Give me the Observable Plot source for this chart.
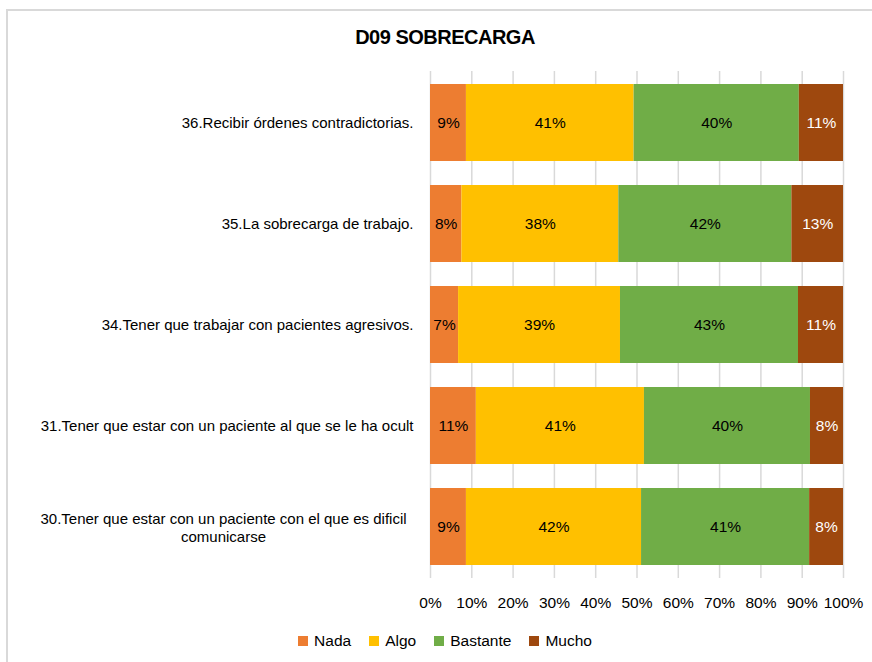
<!DOCTYPE html>
<html>
<head>
<meta charset="utf-8">
<script src="https://cdn.jsdelivr.net/npm/d3@7"></script>
<script src="https://cdn.jsdelivr.net/npm/@observablehq/plot@0.6"></script>
<style>
  body { margin: 0; background: #fff; }
  #wrap { position: relative; width: 872px; height: 662px; overflow: hidden; font-family: "Liberation Sans Narrow", "Arial Narrow", "Liberation Sans", sans-serif; }
  #border { position: absolute; left: 6px; top: 9px; width: 900px; height: 700px; border: 2px solid #d9d9d9; box-sizing: border-box; }
  #title { position: absolute; left: 0; top: 26px; width: 890px; text-align: center; font-weight: bold; font-size: 20px; color: #000; letter-spacing: -0.5px; }
  #chart { position: absolute; left: 0; top: 0; }
  #legend { position: absolute; left: 0; top: 632px; width: 890px; text-align: center; font-size: 15.5px; color: #000; }
  #legend span.item { display: inline-block; margin: 0 9px; }
  #legend span.sw { display: inline-block; width: 10px; height: 10px; margin-right: 6px; vertical-align: 0px; }
</style>
</head>
<body>
<div id="wrap">
  <div id="border"></div>
  <div id="title">D09 SOBRECARGA</div>
  <div id="chart"></div>
  <div id="legend"></div>
</div>
<script>
const items = [
  "36.Recibir órdenes contradictorias.",
  "35.La sobrecarga de trabajo.",
  "34.Tener que trabajar con pacientes agresivos.",
  "31.Tener que estar con un paciente al que se le ha ocult",
  "30.Tener que estar con un paciente con el que es dificil\ncomunicarse"
];
const categories = ["Nada", "Algo", "Bastante", "Mucho"];
const colors = ["#ED7D31", "#FFC000", "#70AD47", "#9E480E"];
const nada     = [8.7, 7.6, 6.8, 11.1, 8.7];
const algo     = [40.6, 38.0, 39.2, 40.7, 42.4];
const bastante = [40.0, 41.9, 43.1, 40.2, 40.7];
const mucho    = [10.7, 12.5, 10.9, 8.0, 8.2];
const xTicks = [0, 10, 20, 30, 40, 50, 60, 70, 80, 90, 100];

const series = [nada, algo, bastante, mucho];
const data = [];
items.forEach((it, i) => {
  categories.forEach((c, j) => data.push({item: it, cat: c, value: series[j][i]}));
});

const font = '"Liberation Sans Narrow", "Arial Narrow", "Liberation Sans", sans-serif';
const single = items.filter(d => !d.includes("\n"));
const multi = items.filter(d => d.includes("\n"));

const plot = Plot.plot({
  width: 872,
  height: 620,
  marginLeft: 430,
  marginRight: 29,
  marginTop: 71,
  marginBottom: 42,
  style: {fontFamily: font, fontSize: "15px", color: "#000", background: "transparent"},
  x: {domain: [0, 100], label: null, axis: null},
  y: {domain: items, paddingInner: 0.235, paddingOuter: 0.103, label: null, axis: null},
  color: {domain: categories, range: colors},
  marks: [
    Plot.ruleX(xTicks, {stroke: "#d9d9d9", strokeWidth: 1.5}),
    Plot.barX(data, Plot.stackX({x: "value", y: "item", fill: "cat", order: categories})),
    Plot.text(data, Plot.stackX({x: "value", y: "item", z: "cat", order: categories,
      text: d => Math.round(d.value) + "%",
      fill: d => d.cat === "Mucho" ? "#fff" : "#000", fontSize: 15.5})),
    Plot.axisX({ticks: xTicks, tickFormat: d => d + "%", tickSize: 0, tickPadding: 18, fontSize: 15.5, label: null}),
    Plot.text(single, {y: d => d, text: d => d, frameAnchor: "left", textAnchor: "end", dx: -17, fontSize: 15, fill: "#000", letterSpacing: "-0.2px"}),
    Plot.text(multi, {y: d => d, text: d => d, frameAnchor: "left", textAnchor: "middle", dx: -207, fontSize: 15, fill: "#000", lineHeight: 1.25, letterSpacing: "-0.1px"})
  ]
});
document.getElementById("chart").appendChild(plot);

const legend = document.getElementById("legend");
categories.forEach((c, i) => {
  const s = document.createElement("span");
  s.className = "item";
  s.innerHTML = `<span class="sw" style="background:${colors[i]}"></span>${c}`;
  legend.appendChild(s);
});
</script>
</body>
</html>
